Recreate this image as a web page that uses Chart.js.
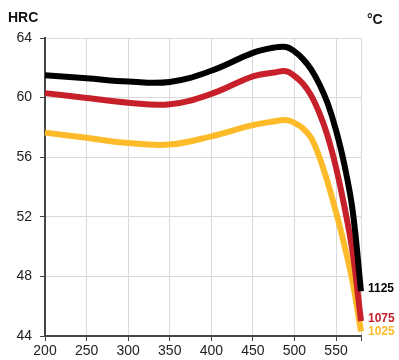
<!DOCTYPE html>
<html>
<head>
<meta charset="utf-8">
<script src="https://cdn.jsdelivr.net/npm/chart.js@4"></script>
<style>
  html, body { margin: 0; padding: 0; background: #fff; }
  #wrap { width: 399px; height: 360px; }
</style>
</head>
<body>
<div id="wrap"><canvas id="myChart" width="399" height="360"></canvas></div>
<script>
// tempering temperature (x) and hardness per hardening temperature
var temps = [200, 250, 300, 350, 400, 450, 475, 490, 500, 510, 520, 530, 540, 550, 560, 570, 580];
var hrc1125 = [61.5, 61.3, 61.08, 61.05, 61.8, 63.0, 63.35, 63.4, 63.1, 62.6, 61.9, 60.9, 59.6, 57.8, 55.5, 52.4, 47.0];
var hrc1075 = [60.3, 59.98, 59.66, 59.55, 60.25, 61.43, 61.68, 61.77, 61.45, 60.95, 60.15, 58.95, 57.4, 55.3, 52.7, 49.6, 45.0];
var hrc1025 = [57.65, 57.3, 56.95, 56.85, 57.4, 58.15, 58.4, 58.5, 58.3, 57.95, 57.3, 56.0, 54.3, 52.3, 50.1, 47.6, 44.3];
var seriesNames = ['1125', '1075', '1025'];
var seriesColors = ['#000000', '#c8202a', '#fdbb2a'];
var xTicks = [200, 250, 300, 350, 400, 450, 500, 550];
var yTicks = [44, 48, 52, 56, 60, 64];
var yTitle = 'HRC';
var xUnit = '°C';

function pts(ys) {
    var out = [];
    for (var i = 0; i < temps.length; i++) out.push({x: temps[i], y: ys[i]});
    return out;
}

var allSeries = [hrc1125, hrc1075, hrc1025];
var datasets = [];
for (var i = 0; i < allSeries.length; i++) {
    datasets.push({
        label: seriesNames[i],
        data: pts(allSeries[i]),
        borderColor: seriesColors[i],
        borderWidth: 6,
        pointRadius: 0,
        tension: 0.4,
        fill: false,
        clip: false
    });
}

var labelsPlugin = {
    id: 'labels',
    afterDraw: function (chart) {
        var ctx = chart.ctx;
        var ys = chart.scales.y;
        ctx.save();
        ctx.font = 'bold 14px "Liberation Sans", Arial, sans-serif';
        ctx.fillStyle = '#111';
        ctx.textAlign = 'left';
        ctx.textBaseline = 'alphabetic';
        ctx.fillText(yTitle, 8, 22);
        ctx.fillText(xUnit, 367, 24);
        ctx.font = 'bold 12px "Liberation Sans", Arial, sans-serif';
        var offs = [0, 0, 2];
        for (var i = 0; i < allSeries.length; i++) {
            var last = allSeries[i][allSeries[i].length - 1];
            ctx.fillStyle = seriesColors[i];
            ctx.fillText(seriesNames[i], 368, ys.getPixelForValue(last) + 1 + offs[i]);
        }
        ctx.restore();
    }
};

var ctx = document.getElementById('myChart');
var myChart = new Chart(ctx, {
    type: 'line',
    data: { datasets: datasets },
    options: {
        responsive: false,
        animation: false,
        events: [],
        layout: { padding: { top: 38, right: 38, left: 0, bottom: 0 } },
        plugins: { legend: { display: false }, tooltip: { enabled: false } },
        scales: {
            x: {
                type: 'linear',
                min: 200,
                max: 580,
                afterBuildTicks: function (scale) {
                    scale.ticks = xTicks.concat([580]).map(function (v) { return {value: v}; });
                },
                afterFit: function (scale) { scale.height = 24; },
                grid: { color: '#d9d9d9', lineWidth: 1, tickLength: 5, tickColor: '#444' },
                border: { color: '#444', width: 2 },
                ticks: {
                    padding: 2,
                    maxRotation: 0,
                    autoSkip: false,
                    color: '#222',
                    font: { family: '"Liberation Sans", Arial, sans-serif', size: 14 },
                    callback: function (v) { return xTicks.indexOf(v) >= 0 ? String(v) : ''; }
                }
            },
            y: {
                type: 'linear',
                min: yTicks[0],
                max: yTicks[yTicks.length - 1],
                afterBuildTicks: function (scale) {
                    scale.ticks = yTicks.map(function (v) { return {value: v}; });
                },
                afterFit: function (scale) { scale.width = 45; },
                grid: { color: '#d9d9d9', lineWidth: 1, tickLength: 5, tickColor: '#444' },
                border: { color: '#444', width: 2 },
                ticks: {
                    padding: 8,
                    color: '#222',
                    font: { family: '"Liberation Sans", Arial, sans-serif', size: 14 }
                }
            }
        }
    },
    plugins: [labelsPlugin]
});
</script>
</body>
</html>
